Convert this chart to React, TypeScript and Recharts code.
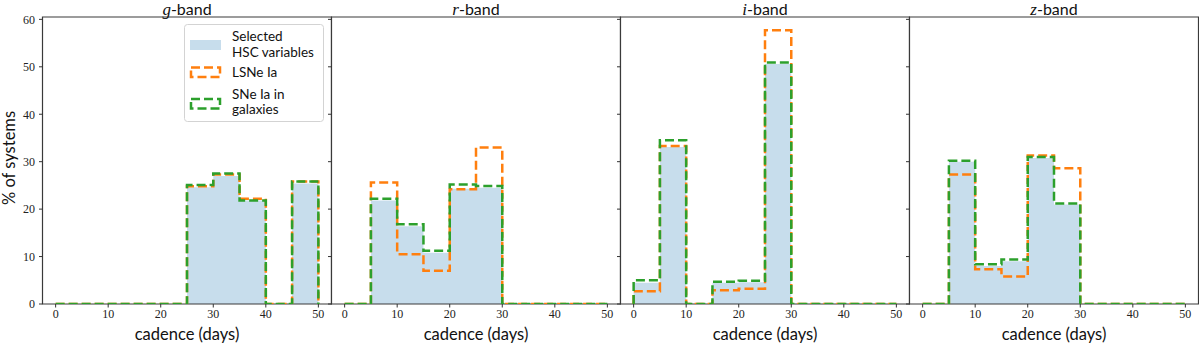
import React from "react";
import {
  ComposedChart,
  Area,
  Line,
  XAxis,
  YAxis,
  ReferenceArea,
  Legend,
} from "recharts";

// bin edges (days) and axis ticks
const binEdges = [0, 5, 10, 15, 20, 25, 30, 35, 40, 45, 50];
const xTicks = [0, 10, 20, 30, 40, 50];
const yTicks = [0, 10, 20, 30, 40, 50, 60];

const bandNames = ["g", "r", "i", "z"];

// % of systems per 5-day bin
const hscG = [0, 0, 0, 0, 0, 24.6, 27.0, 21.8, 0, 25.4];
const lsneG = [0, 0, 0, 0, 0, 24.8, 27.3, 22.2, 0, 25.8];
const sneG = [0, 0, 0, 0, 0, 25.1, 27.5, 21.8, 0, 25.8];

const hscR = [0, 21.8, 16.4, 10.8, 24.3, 24.5, 0, 0, 0, 0];
const lsneR = [0, 25.6, 10.5, 7.0, 24.2, 33.0, 0, 0, 0, 0];
const sneR = [0, 22.2, 16.8, 11.2, 25.2, 24.9, 0, 0, 0, 0];

const hscI = [4.5, 33.1, 0, 4.5, 4.6, 50.6, 0, 0, 0, 0];
const lsneI = [2.7, 33.3, 0, 2.9, 3.2, 57.7, 0, 0, 0, 0];
const sneI = [5.0, 34.5, 0, 4.7, 4.9, 50.9, 0, 0, 0, 0];

const hscZ = [0, 30.0, 8.0, 9.0, 30.8, 21.0, 0, 0, 0, 0];
const lsneZ = [0, 27.3, 7.3, 5.8, 31.3, 28.6, 0, 0, 0, 0];
const sneZ = [0, 30.2, 8.4, 9.4, 31.0, 21.2, 0, 0, 0, 0];

const legendLabels = [["Selected", "HSC variables"], ["LSNe Ia"], ["SNe Ia in", "galaxies"]];

const FILL = "#c7ddec";
const ORANGE = "#ff7f0e";
const GREEN = "#2ca02c";

// step outline: start on the baseline, one row per bin, drop back at the last edge
function histRows(hsc: number[], lsne: number[], sne: number[]) {
  const last = binEdges[binEdges.length - 1];
  return [
    { x: binEdges[0], hsc: 0, lsne: 0, sne: 0 },
    ...hsc.map((v, i) => ({ x: binEdges[i], hsc: v, lsne: lsne[i], sne: sne[i] })),
    { x: last, hsc: 0, lsne: 0, sne: 0 },
  ];
}

const bands = [
  histRows(hscG, lsneG, sneG),
  histRows(hscR, lsneR, sneR),
  histRows(hscI, lsneI, sneI),
  histRows(hscZ, lsneZ, sneZ),
];

const panelLefts = [42.5, 331.5, 620.5, 909.5];
const panelW = 289;
const yAxisW = 42.5;

const tickStyle = { fontFamily: "Liberation Serif", fontSize: 12, fill: "#222" };

function LegendBox() {
  const text = { fontFamily: "Lato", fontSize: 13.5, fill: "#111" };
  return (
    <svg width={140} height={98}>
      <rect x={0.5} y={0.5} width={139} height={97} rx={3} fill="#fff" fillOpacity={0.8} stroke="#d3d3d3" />
      <rect x={6} y={16} width={31} height={10} fill={FILL} />
      <text x={48} y={17} {...text}>{legendLabels[0][0]}</text>
      <text x={48} y={33} {...text}>{legendLabels[0][1]}</text>
      <rect x={7} y={43.5} width={29} height={9.5} fill="none" stroke={ORANGE} strokeWidth={2.5} strokeDasharray="9 4" />
      <text x={48} y={53} {...text}>{legendLabels[1][0]}</text>
      <rect x={7} y={75} width={29} height={9.5} fill="none" stroke={GREEN} strokeWidth={2.5} strokeDasharray="9 4" />
      <text x={48} y={74.5} {...text}>{legendLabels[2][0]}</text>
      <text x={48} y={90} {...text}>{legendLabels[2][1]}</text>
    </svg>
  );
}

function Panel({ idx }: { idx: number }) {
  const data = bands[idx];
  return (
    <div style={{ position: "absolute", left: panelLefts[idx] - yAxisW, top: 0 }}>
      <ComposedChart
        width={yAxisW + panelW}
        height={346}
        data={data}
        margin={{ top: 17, right: 0, bottom: 0, left: 0 }}
      >
        <XAxis
          dataKey="x"
          type="number"
          domain={[-2.5, 52.5]}
          ticks={xTicks}
          allowDataOverflow
          height={42}
          axisLine={false}
          tickSize={3.5}
          tickMargin={2}
          tickLine={{ stroke: "#333" }}
          tick={tickStyle}
          label={{
            value: "cadence (days)",
            position: "insideBottom",
            offset: 6,
            style: { fontFamily: "Lato", fontSize: 16.5, fill: "#111" },
          }}
        />
        <YAxis
          type="number"
          domain={[0, 60.5]}
          ticks={yTicks}
          allowDataOverflow
          width={yAxisW}
          axisLine={false}
          tickSize={3.5}
          tickMargin={4}
          tickLine={{ stroke: "#333" }}
          tick={tickStyle}
          tickFormatter={(v: number) => (idx === 0 ? String(v) : "")}
        />
        <Area
          dataKey="hsc"
          type="stepAfter"
          fill={FILL}
          fillOpacity={1}
          stroke="none"
          isAnimationActive={false}
          activeDot={false}
        />
        <Line
          dataKey="lsne"
          type="stepAfter"
          stroke={ORANGE}
          strokeWidth={2.5}
          strokeDasharray="9 4"
          dot={false}
          activeDot={false}
          isAnimationActive={false}
        />
        <Line
          dataKey="sne"
          type="stepAfter"
          stroke={GREEN}
          strokeWidth={2.5}
          strokeDasharray="9 4"
          dot={false}
          activeDot={false}
          isAnimationActive={false}
        />
        <ReferenceArea
          x1={-2.5}
          x2={52.5}
          y1={0}
          y2={60.5}
          fill="none"
          stroke="#3a3a3a"
          strokeWidth={1.2}
          ifOverflow="visible"
        />
        {idx === 0 && (
          <Legend
            layout="vertical"
            align="center"
            verticalAlign="middle"
            content={() => <LegendBox />}
            wrapperStyle={{ position: "absolute", left: 184, top: 24, width: 140, height: 98 }}
          />
        )}
      </ComposedChart>
    </div>
  );
}

export default function App() {
  return (
    <div style={{ position: "relative", width: 1200, height: 346, background: "#fff", overflow: "hidden" }}>
      <style>{`body{margin:0}`}</style>
      {bandNames.map((b, i) => (
        <Panel key={b} idx={i} />
      ))}
      {bandNames.map((b, i) => (
        <div
          key={"t" + b}
          style={{
            position: "absolute",
            left: panelLefts[i],
            width: panelW,
            top: 1,
            textAlign: "center",
            fontFamily: "Lato",
            fontSize: 16,
            lineHeight: "16px",
            color: "#111",
          }}
        >
          <span style={{ fontFamily: "Liberation Serif", fontStyle: "italic", fontSize: 17 }}>{b}</span>-band
        </div>
      ))}
      <div
        style={{
          position: "absolute",
          left: 9,
          top: 158,
          transform: "translate(-50%, -50%) rotate(-90deg)",
          whiteSpace: "nowrap",
          fontFamily: "Lato",
          fontSize: 16.5,
          color: "#111",
        }}
      >
        % of systems
      </div>
    </div>
  );
}
